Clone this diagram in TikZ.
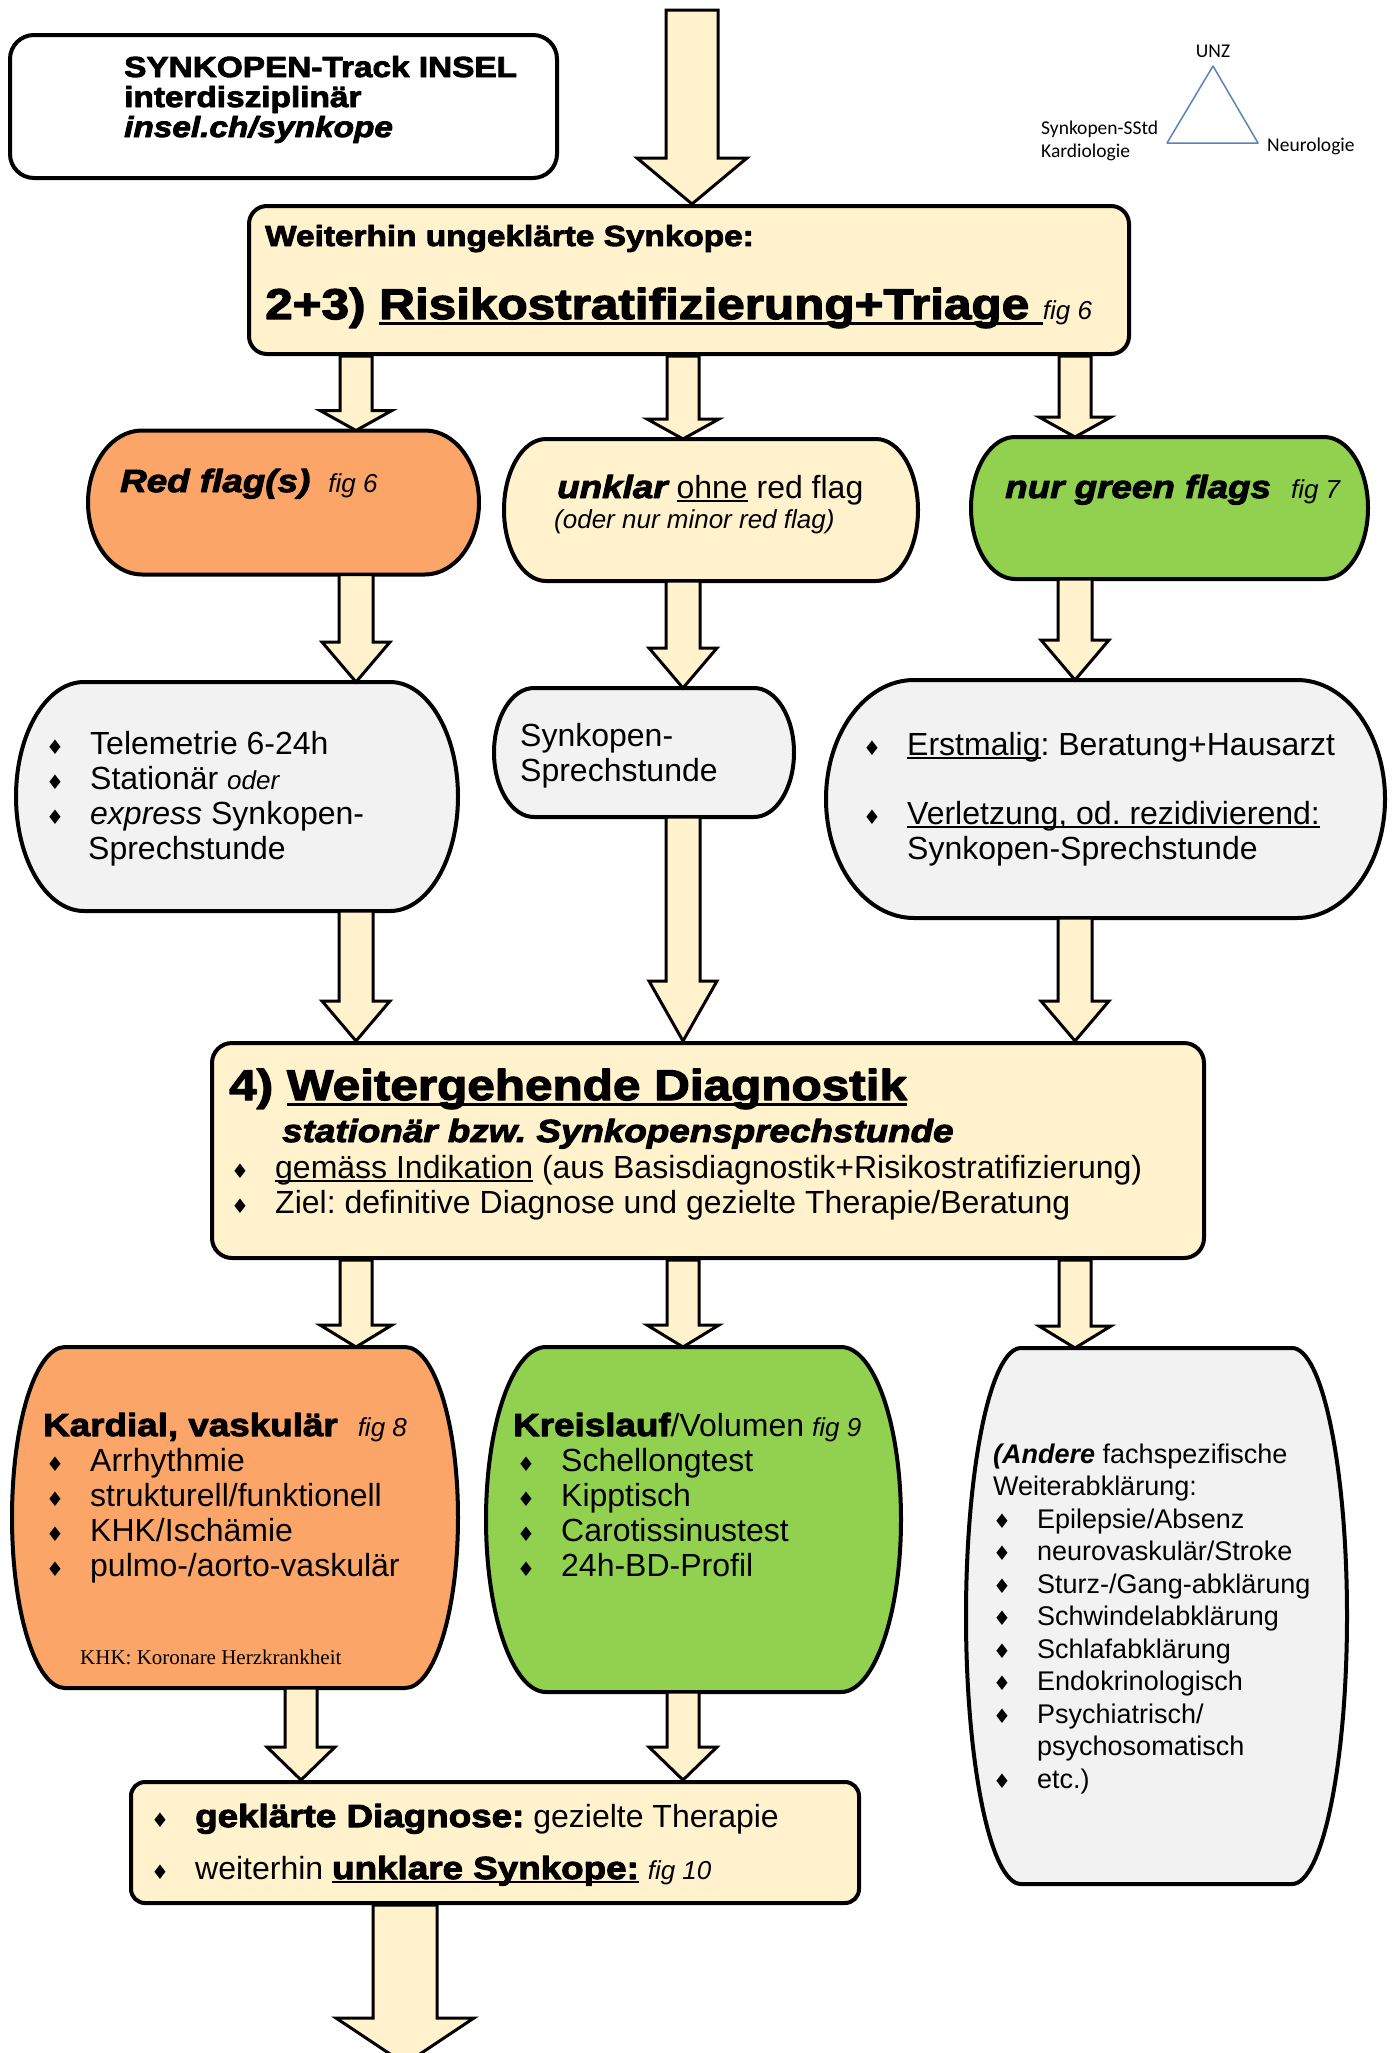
\documentclass[tikz,border=0pt]{standalone}
\usepackage{fontspec}
\setmainfont{Liberation Sans}
\newfontfamily\blackfont{Liberation Sans}[FakeStretch=1.15,
  BoldFeatures={FakeBold=3}, BoldItalicFeatures={FakeBold=3}]
\newfontfamily\symfont{DejaVu Sans}
\newfontfamily\calibrifont{Carlito}
\newfontfamily\notefont{Liberation Serif}
\usetikzlibrary{calc, positioning}
\frenchspacing
\definecolor{trackCream}{RGB}{255,242,204}
\definecolor{trackRed}{RGB}{251,165,104}
\definecolor{trackGreen}{RGB}{146,208,80}
\definecolor{trackGray}{RGB}{242,242,242}
\definecolor{trackBlue}{RGB}{91,130,185}
\newcommand\bodyfont{\fontsize{32}{35}\selectfont}
\newcommand\heavyfont[2]{\blackfont\bfseries\fontsize{#1}{#2}\selectfont}
\newcommand\figfont{\normalfont\itshape\fontsize{26}{30}\selectfont}
\newcommand\bul{\makebox[44pt][l]{\symfont\fontsize{20}{20}\selectfont ♦}}
\newsavebox\undlbox
\newcommand\undl[1]{\sbox\undlbox{#1}\rlap{\rule[-0.13em]{\wd\undlbox}{0.06em}}\usebox\undlbox}
% barrel outline round a node: node, corner radius, fill
\newcommand\barrel[3]{%
  \path[barrelline, fill=#3] let \p1=(#1.north west), \p2=(#1.south east),
      \n1={0.5523*0.5*(\y1-\y2)}, \n2={0.5*(\y1+\y2)} in
    (\x1+#2,\y1) -- (\x2-#2,\y1)
    .. controls (\x2-0.4477*#2,\y1) and (\x2,\n2+\n1) .. (\x2,\n2)
    .. controls (\x2,\n2-\n1) and (\x2-0.4477*#2,\y2) .. (\x2-#2,\y2)
    -- (\x1+#2,\y2)
    .. controls (\x1+0.4477*#2,\y2) and (\x1,\n2-\n1) .. (\x1,\n2)
    .. controls (\x1,\n2+\n1) and (\x1+0.4477*#2,\y1) .. cycle;}
% block arrow: start, tip, shaft half width, head half width, head length
\newcommand\flowarrow[5]{%
  \path[blockarrow] let \p1=(#1), \p2=(#2) in
    (\x1-#3,\y1) -- (\x1-#3,\y2+#5) -- (\x1-#4,\y2+#5) -- (\x1,\y2)
    -- (\x1+#4,\y2+#5) -- (\x1+#3,\y2+#5) -- (\x1+#3,\y1) -- cycle;}
\tikzset{
    track/.style={x=1pt, y=-1pt, line join=round},
    roundbox/.style={draw=black, line width=4pt, fill=trackCream, inner sep=0pt},
    barrelbox/.style={inner sep=0pt, outer sep=0pt},
    barrelline/.style={draw=black, line width=4pt},
    blockarrow/.style={draw=black, line width=3pt, fill=trackCream, line join=miter},
    txt/.style={inner sep=0pt, anchor=base west, align=left, font=\bodyfont},
    triline/.style={draw=trackBlue, line width=1.5pt},
    trilabel/.style={inner sep=0pt, font=\calibrifont\fontsize{19.5}{23}\selectfont},
}

\begin{document}
\begin{tikzpicture}[track]
\useasboundingbox (0,0) rectangle (1395,2053);

% --- Spalten der Pfeile ---
\coordinate (colA) at (356,0);
\coordinate (colB) at (683,0);
\coordinate (colC) at (1075,0);
\coordinate (colD) at (301,0);
\coordinate (entry) at (692,10);
\coordinate (exit) at (405,2064);

% --- Kopf (mehrzeilige Texte: Basislinie der letzten Zeile) ---
\node[roundbox, fill=white, rounded corners=24pt, minimum width=547pt,
      minimum height=143pt] (title) at (283.5,106.5) {};
\node[txt, font=\heavyfont{29}{30}] (titletxt) at (124,137)
    {SYNKOPEN-Track INSEL\\interdisziplinär\\{\itshape insel.ch/synkope}};

\coordinate (unz) at (1213,66);
\coordinate (sstd) at (1167,143);
\coordinate (neuro) at (1258,143);
\draw[triline] (unz) -- (sstd) -- (neuro) -- cycle;
\node[trilabel, anchor=base] (unzlabel) at (1213,57) {UNZ};
\node[trilabel, anchor=base west, align=left] (sstdlabel) at (1041,157)
    {Synkopen-SStd\\Kardiologie};
\node[trilabel, anchor=base west] (neurolabel) at (1267,151) {Neurologie};

% --- 2+3) Risikostratifizierung ---
\node[roundbox, rounded corners=18pt, minimum width=880pt, minimum height=148pt]
    (risk) at (689,280) {};
\node[txt, font=\heavyfont{29}{30}] (risktop) at (265,246) {Weiterhin ungeklärte Synkope:};
\node[txt, font=\heavyfont{43}{48}] (riskmain) at (265,319)
    {2+3) \undl{Risikostratifizierung+Triage\ }{\figfont fig 6}};

% --- Triage ---
\node[barrelbox, minimum width=391pt, minimum height=144pt] (redflag) at (283.5,502.5) {};
\barrel{redflag}{54}{trackRed}
\node[txt, font=\heavyfont{32}{35}\itshape] (redtxt) at (120,492)
    {Red flag(s)\hspace{18pt}{\figfont fig 6}};

\node[barrelbox, minimum width=414pt, minimum height=142pt] (unklar) at (711,510) {};
\barrel{unklar}{42}{trackCream}
\node[txt] (unklartxt) at (557,498)
    {{\heavyfont{32}{35}\itshape unklar} \undl{ohne} red flag};
\node[txt, font=\figfont] (unklarsub) at (554,528) {(oder nur minor red flag)};

\node[barrelbox, minimum width=397pt, minimum height=142pt] (green) at (1169.5,508) {};
\barrel{green}{44}{trackGreen}
\node[txt, font=\heavyfont{32}{35}\itshape] (greentxt) at (1005,498)
    {nur green flags\hspace{20pt}{\figfont fig 7}};

% --- Weiteres Vorgehen ---
\node[barrelbox, minimum width=442pt, minimum height=229pt] (telem) at (237,796.5) {};
\barrel{telem}{68}{trackGray}
\node[txt] (telemtxt) at (46,859)
    {\bul Telemetrie 6-24h\\\bul Stationär {\figfont oder}\\
     \bul\textit{express} Synkopen-\\\hspace*{42pt}Sprechstunde};

\node[barrelbox, minimum width=300pt, minimum height=129pt] (sprech) at (644,752.5) {};
\barrel{sprech}{40}{trackGray}
\node[txt] (sprechtxt) at (520,781) {Synkopen-\\Sprechstunde};

\node[barrelbox, minimum width=559pt, minimum height=238pt] (erst) at (1105.5,799) {};
\barrel{erst}{88}{trackGray}
\node[txt] (ersttxt) at (863,859)
    {\bul\undl{Erstmalig}: Beratung+Hausarzt\\[34pt]
     \bul\undl{Verletzung, od. rezidivierend:}\\\hspace*{44pt}Synkopen-Sprechstunde};

% --- 4) Weitergehende Diagnostik ---
\node[roundbox, rounded corners=20pt, minimum width=992pt, minimum height=215pt]
    (diag) at (708,1150.5) {};
\node[txt, font=\heavyfont{43}{48}] (diagtitle) at (229,1100)
    {4) \undl{Weitergehende Diagnostik}};
\node[txt, font=\heavyfont{32}{35}\itshape] (diagsub) at (282,1142)
    {stationär bzw. Synkopensprechstunde};
\node[txt] (diaglist) at (231,1213)
    {\bul\undl{gemäss Indikation} (aus Basisdiagnostik+Risikostratifizierung)\\
     \bul Ziel: definitive Diagnose und gezielte Therapie/Beratung};

% --- Fachbereiche ---
\node[barrelbox, minimum width=446pt, minimum height=341pt] (kardial) at (235,1517.5) {};
\barrel{kardial}{53}{trackRed}
\node[txt, font=\heavyfont{32}{35}] (kardtitle) at (43,1436)
    {Kardial, vaskulär\hspace{20pt}{\figfont fig 8}};
\node[txt] (kardlist) at (46,1576)
    {\bul Arrhythmie\\\bul strukturell/funktionell\\\bul KHK/Ischämie\\\bul pulmo-/aorto-vaskulär};
\node[txt, font=\notefont\fontsize{21}{24}\selectfont] (khknote) at (80,1664)
    {KHK: Koronare Herzkrankheit};

\node[barrelbox, minimum width=415pt, minimum height=345pt] (kreis) at (693.5,1519.5) {};
\barrel{kreis}{60}{trackGreen}
\node[txt] (kreistitle) at (513,1436)
    {{\heavyfont{32}{35}Kreislauf}/Volumen\hspace{8pt}{\figfont fig 9}};
\node[txt] (kreislist) at (517,1576)
    {\bul Schellongtest\\\bul Kipptisch\\\bul Carotissinustest\\\bul 24h-BD-Profil};

\node[barrelbox, minimum width=381pt, minimum height=536pt] (andere) at (1156.5,1616) {};
\barrel{andere}{55}{trackGray}
\node[txt, font=\fontsize{27}{32.5}\selectfont] (anderetxt) at (993,1788)
    {\textbf{\textit{(Andere}} fachspezifische\\Weiterabklärung:\\
     \bul Epilepsie/Absenz\\\bul neurovaskulär/Stroke\\\bul Sturz-/Gang-abklärung\\
     \bul Schwindelabklärung\\\bul Schlafabklärung\\\bul Endokrinologisch\\
     \bul Psychiatrisch/\\\hspace*{44pt}psychosomatisch\\\bul etc.)};

% --- Ergebnis ---
\node[roundbox, rounded corners=14pt, minimum width=728pt, minimum height=121pt]
    (final) at (495,1842.5) {};
\node[txt] (finaltxt) at (151,1879)
    {\bul{\heavyfont{32}{35}geklärte Diagnose:} gezielte Therapie\\[17pt]
     \bul weiterhin {\heavyfont{32}{35}\undl{unklare Synkope:}} {\figfont fig 10}};

% --- Pfeile ---
\flowarrow{entry}{risk.north -| entry}{26}{55}{46}
\flowarrow{risk.south -| colA}{redflag.north -| colA}{16}{36}{20}
\flowarrow{risk.south -| colB}{unklar.north -| colB}{16}{36}{20}
\flowarrow{risk.south -| colC}{green.north -| colC}{16}{36}{20}
\flowarrow{redflag.south -| colA}{telem.north -| colA}{17}{34}{40}
\flowarrow{unklar.south -| colB}{sprech.north -| colB}{17}{34}{40}
\flowarrow{green.south -| colC}{erst.north -| colC}{17}{34}{40}
\flowarrow{telem.south -| colA}{diag.north -| colA}{17}{34}{40}
\flowarrow{sprech.south -| colB}{diag.north -| colB}{17}{34}{60}
\flowarrow{erst.south -| colC}{diag.north -| colC}{17}{34}{40}
\flowarrow{diag.south -| colA}{kardial.north -| colA}{16}{36}{22}
\flowarrow{diag.south -| colB}{kreis.north -| colB}{16}{36}{22}
\flowarrow{diag.south -| colC}{andere.north -| colC}{16}{36}{22}
\flowarrow{kardial.south -| colD}{final.north -| colD}{16}{34}{33}
\flowarrow{kreis.south -| colB}{final.north -| colB}{16}{34}{33}
\flowarrow{final.south -| exit}{exit}{32}{69}{46}

\end{tikzpicture}
\end{document}
